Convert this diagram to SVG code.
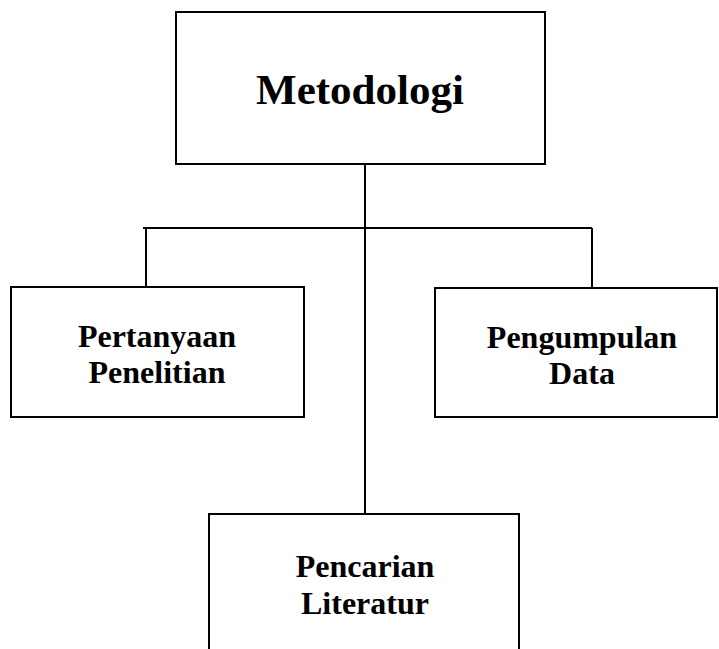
<svg xmlns="http://www.w3.org/2000/svg" width="719" height="649" viewBox="0 0 719 649">
<style>
.box{fill:#fff;stroke:#000;stroke-width:2}
.ln{stroke:#000;stroke-width:2;fill:none}
text{font-family:"Liberation Serif","Times New Roman",serif;font-weight:bold;fill:#000;text-anchor:middle}
.t1{font-size:43px}
.t2{font-size:32px}
</style>
<rect width="719" height="649" fill="#fff"/>
<g id="connectors">
<line class="ln" x1="365" y1="164" x2="365" y2="514"/>
<line class="ln" x1="143" y1="228" x2="592" y2="228"/>
<line class="ln" x1="146" y1="228" x2="146" y2="287"/>
<line class="ln" x1="592" y1="228" x2="592" y2="288"/>
</g>
<g id="metodologi">
<rect class="box" x="176" y="12" width="369" height="152"/>
<text class="t1" x="360" y="104">Metodologi</text>
</g>
<g id="pertanyaan">
<rect class="box" x="11" y="287" width="293" height="130"/>
<text class="t2" x="157" y="347">Pertanyaan</text>
<text class="t2" x="157" y="383">Penelitian</text>
</g>
<g id="pengumpulan">
<rect class="box" x="435" y="288" width="282" height="129"/>
<text class="t2" x="582" y="348">Pengumpulan</text>
<text class="t2" x="582" y="384">Data</text>
</g>
<g id="pencarian">
<rect class="box" x="209" y="514" width="310" height="150"/>
<text class="t2" x="365" y="577">Pencarian</text>
<text class="t2" x="365" y="614">Literatur</text>
</g>
</svg>
